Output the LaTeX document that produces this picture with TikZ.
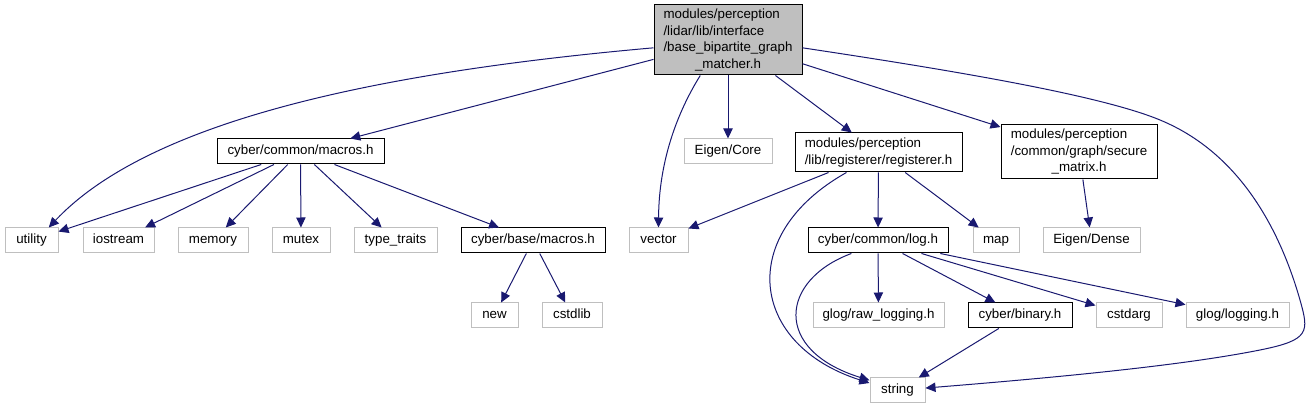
\documentclass[tikz,border=0pt]{standalone}
\usepackage{fontspec}
\setmainfont{Liberation Sans}
\usetikzlibrary{arrows.meta}
\definecolor{edgeblue}{RGB}{25,25,112}
\definecolor{boxgray}{RGB}{191,191,191}
\newcommand\leftlines[2]{\begin{tabular}{@{}l@{}}#1\\\multicolumn{1}{@{}c@{}}{#2}\end{tabular}}
\tikzset{
  >={Triangle[length=7.5pt,width=7pt]},
  file/.style={draw=#1,line width=0.75pt,inner sep=0pt,minimum height=18.75pt,
    font=\fontsize{10}{12.4}\selectfont,align=center,text=black},
  file/.default=black,
  oneline/.style={text height=7.4pt,text depth=2.2pt},
  hdr/.style={file=black,oneline},
  block/.style={file=black},
  sys/.style={file=boxgray,oneline},
  root/.style={file=black,fill=boxgray},
  wd/.style={minimum width=#1*0.75pt},
  ht/.style={minimum height=#1*0.75pt},
  dep/.style={->,line width=0.75pt,draw=edgeblue},
}
\begin{document}
\begin{tikzpicture}[x=0.75pt,y=-0.75pt]
  \useasboundingbox (0,0) rectangle (1311,409);
  % the header itself
  \node[root,wd=148,ht=70] (top) at (728,40)
    {\leftlines{modules/perception\\/lidar/lib/interface\\/base\_bipartite\_graph}{\_matcher.h}};
  % second row
  \node[hdr,wd=167] (ccmacros) at (300.5,151.5) {cyber/common/macros.h};
  \node[sys,wd=88] (eigencore) at (728,151.5) {Eigen/Core};
  \node[block,wd=167,ht=39] (registerer) at (878.5,152.5)
    {\begin{tabular}{@{}l@{}}modules/perception\\/lib/registerer/registerer.h\end{tabular}};
  \node[block,wd=156,ht=54] (secure) at (1079,152)
    {\leftlines{modules/perception\\/common/graph/secure}{\_matrix.h}};
  % third row
  \node[sys,wd=53] (utility) at (31.5,240.5) {utility};
  \node[sys,wd=71] (iostream) at (118.5,240.5) {iostream};
  \node[sys,wd=70] (memory) at (213,240.5) {memory};
  \node[sys,wd=58] (mutex) at (301,240.5) {mutex};
  \node[sys,wd=83] (typetraits) at (395.5,240.5) {type\_traits};
  \node[hdr,wd=144] (basemacros) at (533,240.5) {cyber/base/macros.h};
  \node[sys,wd=59] (vector) at (658.5,240.5) {vector};
  \node[hdr,wd=140] (logh) at (878,240.5) {cyber/common/log.h};
  \node[sys,wd=46] (map) at (996,240.5) {map};
  \node[sys,wd=97] (eigendense) at (1091.5,240.5) {Eigen/Dense};
  % fourth row
  \node[sys,wd=47] (new) at (494.5,315.5) {new};
  \node[sys,wd=60] (cstdlib) at (572,315.5) {cstdlib};
  \node[sys,wd=131] (rawlog) at (878.5,315.5) {glog/raw\_logging.h};
  \node[hdr,wd=104] (binary) at (1020,315.5) {cyber/binary.h};
  \node[sys,wd=66] (cstdarg) at (1129,315.5) {cstdarg};
  \node[sys,wd=103] (glog) at (1237.5,315.5) {glog/logging.h};
  \node[sys,wd=55] (string) at (897.5,390.5) {string};

  \draw[dep] (top.186) .. controls (380,72) and (150,120) .. (utility.37);
  \draw[dep] (top) -- (ccmacros); \draw[dep] (top) -- (eigencore);
  \draw[dep] (top.232) .. controls (685,100) and (659,150) .. (vector.north);
  \draw[dep] (top) -- (registerer); \draw[dep] (top) -- (secure);
  \draw[dep] (top.354) .. controls (950,70) and (1100,95) .. (1160,120)
    .. controls (1240,153) and (1280,230) .. (1300,300)
    .. controls (1309,332) and (1310,340) .. (1260,350)
    .. controls (1180,366) and (1050,378) .. (string.5);
  \foreach \t in {utility,iostream,memory,mutex,typetraits,basemacros}
    \draw[dep] (ccmacros) -- (\t);
  \draw[dep] (basemacros) -- (new); \draw[dep] (basemacros) -- (cstdlib);
  \draw[dep] (registerer) -- (vector); \draw[dep] (registerer) -- (logh); \draw[dep] (registerer) -- (map);
  \draw[dep] (registerer.212) .. controls (735,235) and (750,345) .. (string.165);
  \draw[dep] (secure) -- (eigendense);
  \draw[dep] (logh.206) .. controls (780,280) and (772,350) .. (string.160);
  \foreach \t in {rawlog,binary,cstdarg,glog}
    \draw[dep] (logh) -- (\t);
  \draw[dep] (binary) -- (string);
\end{tikzpicture}
\end{document}
